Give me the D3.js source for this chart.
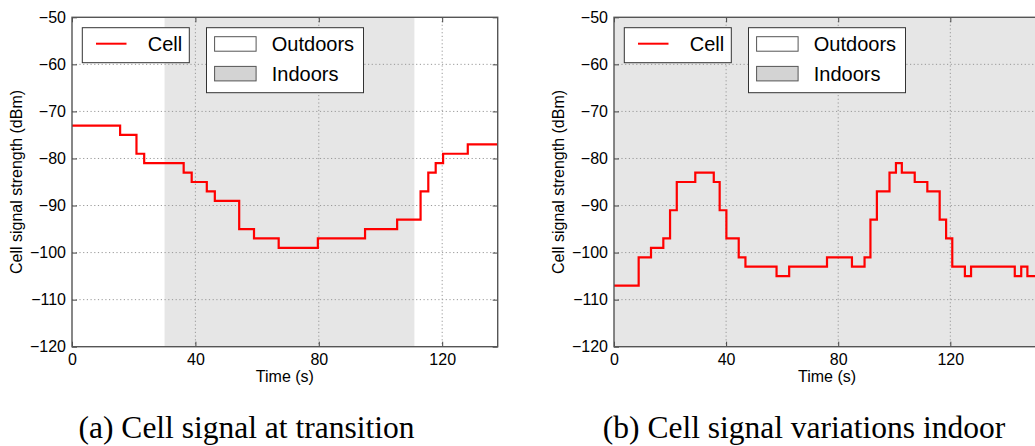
<!DOCTYPE html>
<html>
<head>
<meta charset="utf-8">
<script src="https://cdn.jsdelivr.net/npm/d3@7"></script>
<style>
  body { margin: 0; background: #fff; }
  svg { display: block; font-family: "Liberation Sans", Arial, sans-serif; }
</style>
</head>
<body>
<svg id="chart" width="1035" height="446"></svg>
<script>
// ---- data ----
const leftTime = [0, 15.6, 20.9, 23.4, 36.2, 38.8, 43.7, 46.3, 54.2, 59.0, 67.0, 79.7, 95.0, 105.4, 113.0, 115.5, 117.9, 120.3, 128.3, 138];
const leftSignal = [-73, -75, -79, -81, -83, -85, -87, -89, -95, -97, -99, -97, -95, -93, -87, -83, -81, -79, -77, -77];
const leftIndoor = [30, 111];

const rightTime = [0, 8.8, 13.2, 17.6, 20, 22.4, 29.0, 35.6, 37.7, 40.1, 44.5, 46.9, 58.0, 62.5, 76.0, 84.9, 89.4, 91.5, 93.8, 98.3, 100.6, 102.7, 107.3, 111.8, 116.2, 118.5, 120.7, 125.2, 127.4, 143.0, 145.3, 147.5, 152];
const rightSignal = [-107, -101, -99, -97, -91, -85, -83, -85, -91, -97, -101, -103, -105, -103, -101, -103, -101, -93, -87, -83, -81, -83, -85, -87, -93, -97, -103, -105, -103, -105, -103, -105, -105];
const rightIndoor = [0, 152];

const xTicks = [0, 40, 80, 120];
const yTicks = [-50, -60, -70, -80, -90, -100, -110, -120];
const seriesName = "Cell";
const legendPatches = ["Outdoors", "Indoors"];
const xLabel = "Time (s)";
const yLabel = "Cell signal strength (dBm)";
const captions = ["(a) Cell signal at transition", "(b) Cell signal variations indoor"];

// ---- drawing ----
const svg = d3.select("#chart");
const plotTop = 17.3, plotBottom = 346.7;
const SANS = "'Liberation Sans', Arial, sans-serif";
const SERIF = "'Liberation Serif', 'Times New Roman', serif";

const panels = [
  { left: 72, right: 497.7, xmax: 138, time: leftTime, sig: leftSignal, indoor: leftIndoor, caption: captions[0], capX: 246.5 },
  { left: 614, right: 1040, xmax: 152, time: rightTime, sig: rightSignal, indoor: rightIndoor, caption: captions[1], capX: 804 }
];

panels.forEach(p => {
  const x = d3.scaleLinear().domain([0, p.xmax]).range([p.left, p.right]);
  const y = d3.scaleLinear().domain([-120, -50]).range([plotBottom, plotTop]);
  const g = svg.append("g");

  // indoor shading
  g.append("rect")
    .attr("x", x(p.indoor[0])).attr("y", plotTop)
    .attr("width", x(p.indoor[1]) - x(p.indoor[0]))
    .attr("height", plotBottom - plotTop)
    .attr("fill", "#e6e6e6");

  // grid
  g.selectAll(".gx").data(xTicks.filter(t => t > 0)).enter().append("line")
    .attr("x1", d => x(d)).attr("x2", d => x(d))
    .attr("y1", plotTop).attr("y2", plotBottom)
    .attr("stroke", "#999").attr("stroke-width", 1).attr("stroke-dasharray", "1.2,2.5");
  g.selectAll(".gy").data(yTicks.filter(t => t > -120 && t < -50)).enter().append("line")
    .attr("x1", p.left).attr("x2", p.right)
    .attr("y1", d => y(d)).attr("y2", d => y(d))
    .attr("stroke", "#999").attr("stroke-width", 1).attr("stroke-dasharray", "1.2,2.5");

  // line
  const pts = p.time.map((t, i) => [t, p.sig[i]]);
  const line = d3.line().x(d => x(d[0])).y(d => y(d[1])).curve(d3.curveStepAfter);
  g.append("path").attr("d", line(pts))
    .attr("fill", "none").attr("stroke", "#ff0000").attr("stroke-width", 2.2)
    .attr("stroke-linejoin", "miter");

  // axes with inward ticks
  const xAxis = d3.axisBottom(x).tickValues(xTicks).tickSize(-5).tickPadding(7).tickFormat(d3.format("d"));
  const yAxis = d3.axisLeft(y).tickValues(yTicks).tickSize(-5).tickPadding(6)
    .tickFormat(d => (d < 0 ? "\u2212" + Math.abs(d) : d));
  const gx = g.append("g").attr("transform", `translate(0,${plotBottom})`).call(xAxis);
  const gy = g.append("g").attr("transform", `translate(${p.left},0)`).call(yAxis);
  [gx, gy].forEach(a => {
    a.attr("font-family", null).attr("font-size", null);
    a.select(".domain").remove();
    a.selectAll(".tick line").attr("stroke", "#444");
    a.selectAll(".tick text").style("font-size", "16px").style("font-family", SANS).attr("fill", "#000");
  });
  gx.selectAll(".tick text").attr("dy", "0.71em");
  const yR = d3.axisRight(y).tickValues(yTicks).tickSize(-5).tickFormat("");
  const gyr = g.append("g").attr("transform", `translate(${p.right},0)`).call(yR);
  gyr.select(".domain").remove();
  gyr.selectAll(".tick line").attr("stroke", "#444");
  const xT = d3.axisTop(x).tickValues(xTicks).tickSize(-5).tickFormat("");
  const gxt = g.append("g").attr("transform", `translate(0,${plotTop})`).call(xT);
  gxt.select(".domain").remove();
  gxt.selectAll(".tick line").attr("stroke", "#444");

  // frame
  g.append("rect").attr("x", p.left).attr("y", plotTop)
    .attr("width", p.right - p.left).attr("height", plotBottom - plotTop)
    .attr("fill", "none").attr("stroke", "#555").attr("stroke-width", 1.4);

  // axis labels
  g.append("text").attr("x", (p.left + p.right) / 2).attr("y", 381.5)
    .attr("text-anchor", "middle").style("font-size", "16px").style("font-family", SANS).text(xLabel);
  g.append("text").attr("transform", `translate(${p.left - 50},${(plotTop + plotBottom) / 2}) rotate(-90)`)
    .attr("text-anchor", "middle").style("font-size", "16px").style("font-family", SANS).text(yLabel);

  // legend 1
  const L = p.left;
  g.append("rect").attr("x", L + 10.3).attr("y", 27.7).attr("width", 107).attr("height", 35)
    .attr("fill", "#fff").attr("stroke", "#333").attr("stroke-width", 1);
  g.append("line").attr("x1", L + 24).attr("x2", L + 54.5).attr("y1", 43.7).attr("y2", 43.7)
    .attr("stroke", "#ff0000").attr("stroke-width", 2);
  g.append("text").attr("x", L + 75.8).attr("y", 51).style("font-size", "20px").style("font-family", SANS).text(seriesName);

  // legend 2
  g.append("rect").attr("x", L + 134.5).attr("y", 27.7).attr("width", 157).attr("height", 65)
    .attr("fill", "#fff").attr("stroke", "#333").attr("stroke-width", 1);
  const fills = ["#ffffff", "#d3d3d3"];
  legendPatches.forEach((name, i) => {
    g.append("rect").attr("x", L + 142.6).attr("y", 36.7 + i * 29.7).attr("width", 41.5).attr("height", 14.5)
      .attr("fill", fills[i]).attr("stroke", "#555").attr("stroke-width", 1);
    g.append("text").attr("x", L + 199.8).attr("y", 51 + i * 29.7).style("font-size", "20px").style("font-family", SANS).text(name);
  });

  // caption
  g.append("text").attr("x", p.capX).attr("y", 438).attr("text-anchor", "middle")
    .style("font-family", SERIF).style("font-size", "31.5px")
    .text(p.caption);
});
</script>
</body>
</html>
